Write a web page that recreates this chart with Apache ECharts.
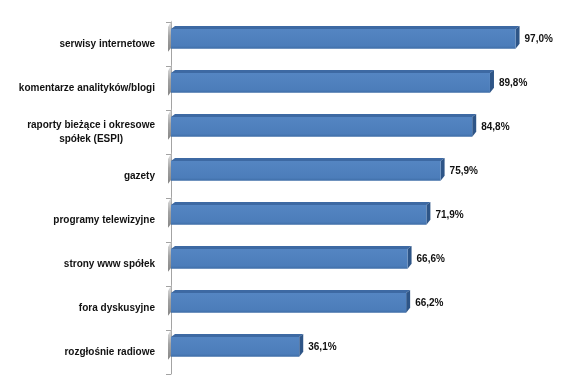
<!DOCTYPE html>
<html>
<head>
<meta charset="utf-8">
<script src="https://cdn.jsdelivr.net/npm/echarts@6/dist/echarts.min.js"></script>
<style>html,body{margin:0;padding:0;background:#fff}#c{width:585px;height:381px}</style>
</head>
<body>
<div id="c"></div>
<script>
const categories = [
  'serwisy internetowe',
  'komentarze analityków/blogi',
  'raporty bieżące i okresowe\nspółek (ESPI)',
  'gazety',
  'programy telewizyjne',
  'strony www spółek',
  'fora dyskusyjne',
  'rozgłośnie radiowe'
];
const values = [97.0, 89.8, 84.8, 75.9, 71.9, 66.6, 66.2, 36.1];

const chart = echarts.init(document.getElementById('c'), null, {renderer: 'canvas'});
const FONT = '"Liberation Sans", Arial, sans-serif';

function renderItem(params, api) {
  const v = api.value(0);
  const idx = api.value(1);
  const p0 = api.coord([0, idx]);
  const p1 = api.coord([v, idx]);
  const band = api.size([0, 1])[1];
  const h = band * 0.45;
  const off = band * 0.115;
  const top = p0[1] - off - h / 2;
  const bot = top + h;
  const x0 = p0[0], x1 = p1[0];
  const d = 4, dy = 3;
  const label = v.toFixed(1).replace('.', ',') + '%';
  return {
    type: 'group',
    children: [
      { type: 'polygon', shape: { points: [[x0 - 3, top - 2], [x0 + 1, top - 9], [x0 + 1, bot - 2], [x0 - 3, bot + 3]] },
        style: { fill: new echarts.graphic.LinearGradient(0, 0, 0, 1, [{offset: 0, color: 'rgba(200,200,200,0.5)'}, {offset: 0.5, color: 'rgba(140,140,140,0.8)'}, {offset: 1, color: 'rgba(120,120,120,0.9)'}]) } },
      { type: 'polygon', shape: { points: [[x0, top], [x0 + d, top - dy], [x1 + d, top - dy], [x1, top]] },
        style: { fill: '#3D69A3' } },
      { type: 'polygon', shape: { points: [[x1, top], [x1 + d, top - dy], [x1 + d, bot - dy - 2], [x1, bot]] },
        style: { fill: '#2E5587' } },
      { type: 'rect', shape: { x: x0, y: top, width: x1 - x0, height: h },
        style: { fill: new echarts.graphic.LinearGradient(0, 0, 0, 1, [{offset: 0, color: '#5485C2'}, {offset: 0.85, color: '#4C7DBA'}, {offset: 1, color: '#3E6CA6'}]) } },
      { type: 'text', style: { text: label, x: x1 + d + 5, y: (top + bot) / 2, align: 'left', verticalAlign: 'middle',
        font: 'bold 10px ' + FONT, fill: '#111' } }
    ]
  };
}

chart.setOption({
  animation: false,
  grid: { left: 171, top: 22, bottom: 7, width: 355.2, containLabel: false },
  xAxis: { type: 'value', min: 0, max: 100, show: false },
  yAxis: {
    type: 'category', data: categories, inverse: true, offset: 3,
    axisLine: { show: true, lineStyle: { color: '#A3A3A3', width: 1 } },
    axisTick: { show: true, length: 5, lineStyle: { color: '#A3A3A3' } },
    axisLabel: {
      margin: 13, color: '#111', fontWeight: 'bold', fontSize: 10, fontFamily: FONT, lineHeight: 14,
      formatter: function (v) {
        if (v.indexOf('\n') >= 0) {
          return v.split('\n').map(s => '{c|' + s + '}').join('\n');
        }
        return v;
      },
      rich: { c: { align: 'center', fontWeight: 'bold', fontSize: 10, fontFamily: FONT, color: '#111', lineHeight: 14 } }
    },
    splitLine: { show: false }
  },
  series: [{
    type: 'custom',
    renderItem: renderItem,
    encode: { x: 0, y: 1 },
    data: values.map((v, i) => [v, i])
  }]
});
</script>
</body>
</html>
